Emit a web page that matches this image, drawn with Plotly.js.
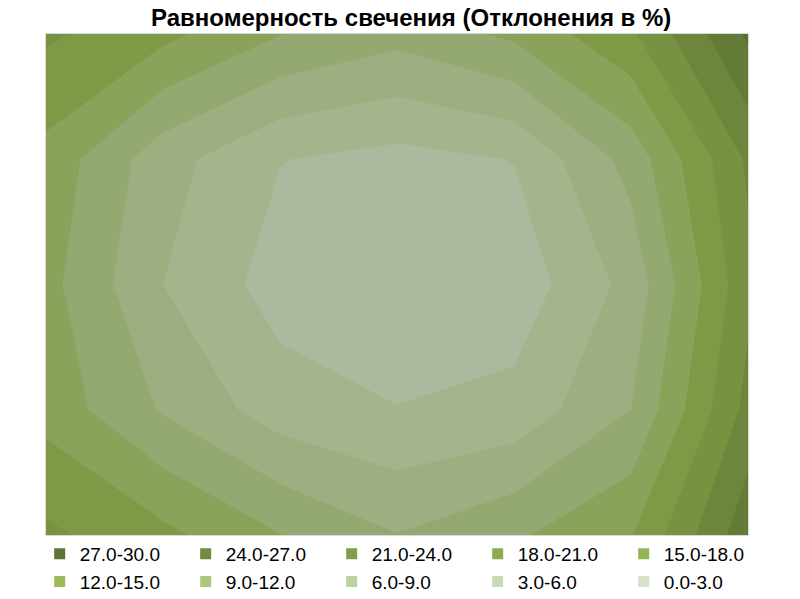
<!DOCTYPE html>
<html><head><meta charset="utf-8">
<script src="https://cdn.plot.ly/plotly-3.0.1.min.js"></script>
<style>html,body{margin:0;padding:0;background:#fff;} #chart{width:800px;height:599px;}</style>
</head><body><div id="chart"></div>
<script>
// grid positions (columns left->right, rows top->bottom)
const colIdx = [0, 1, 2, 3, 4, 5, 6];
const rowIdx = [0, 1, 2, 3, 4];
// deviation values, %
const row0 = [18.5, 15.8, 12.1, 10.0, 12.6, 17.5, 27.5];
const row1 = [14.0, 7.2, 3.1, 2.0, 3.1, 10.1, 21.5];
const row2 = [13.0, 6.0, 1.7, 0.6, 1.1, 7.0, 20.2];
const row3 = [13.9, 8.7, 4.5, 3.1, 4.0, 9.0, 22.0];
const row4 = [18.6, 15.8, 12.1, 9.1, 11.5, 14.8, 26.0];
// contour bands
const levelStart = 3, levelEnd = 27, levelStep = 3;
const bandLabels = ['0.0-3.0','3.0-6.0','6.0-9.0','9.0-12.0','12.0-15.0','15.0-18.0','18.0-21.0','21.0-24.0','24.0-27.0','27.0-30.0'];

// styles
const plotColors = ['#adb99e','#a6b48d','#9daf80','#94a871','#8aa259','#7f9a47','#779241','#6d863b','#637b36','#5b6c33'];
const legendColors = ['#d5e1c9','#c8dab5','#bcd39d','#aac77b','#9bbb59','#93b456','#8cac52','#819e48','#718c3e','#5f7332'];

const n = plotColors.length;
const cs = [];
for (let k = 0; k < n; k++) {
  const lo = Math.max(0, (k - 0.5) / (n - 1));
  const hi = Math.min(1, (k + 0.5) / (n - 1));
  cs.push([lo, plotColors[k]]);
  cs.push([hi, plotColors[k]]);
}

const traces = [{
  type: 'contour',
  x: colIdx, y: rowIdx,
  z: [row0, row1, row2, row3, row4],
  contours: {start: levelStart, end: levelEnd, size: levelStep, coloring: 'fill', showlines: false},
  line: {width: 0, smoothing: 0},
  colorscale: cs,
  showscale: false,
  showlegend: false,
  hoverinfo: 'skip'
}];

for (let k = n - 1; k >= 0; k--) {
  traces.push({
    type: 'scatter', mode: 'markers',
    x: [null], y: [null],
    name: bandLabels[k],
    marker: {symbol: 'square', size: 11, color: legendColors[k], line: {width: 0}},
    showlegend: true, hoverinfo: 'skip'
  });
}

const font = 'Liberation Sans, Arial, sans-serif';
const layout = {
  width: 800, height: 599,
  margin: {l: 46, r: 52, t: 34, b: 64, autoexpand: false},
  paper_bgcolor: '#ffffff', plot_bgcolor: '#ffffff',
  title: {
    text: '<b>Равномерность свечения (Отклонения в %)</b>',
    font: {family: font, size: 24, color: '#000000'},
    x: 0.514, xref: 'container', xanchor: 'center',
    y: 0.97, yref: 'container', yanchor: 'middle'
  },
  xaxis: {range: [0, 6], showgrid: false, zeroline: false, showticklabels: false, ticks: '',
          showline: true, mirror: true, linecolor: '#d9d9d9', linewidth: 1, fixedrange: true},
  yaxis: {range: [4, 0], showgrid: false, zeroline: false, showticklabels: false, ticks: '',
          showline: true, mirror: true, linecolor: '#d9d9d9', linewidth: 1, fixedrange: true},
  showlegend: true,
  legend: {
    orientation: 'h',
    x: -0.009, xanchor: 'left',
    y: 0.0, yanchor: 'top',
    entrywidth: 101, entrywidthmode: 'pixels',
    font: {family: font, size: 19, color: '#000000'},
    traceorder: 'normal', bgcolor: 'rgba(0,0,0,0)', itemclick: false, itemdoubleclick: false
  }
};

Plotly.newPlot('chart', traces, layout, {displayModeBar: false, staticPlot: true});
</script>
</body></html>
